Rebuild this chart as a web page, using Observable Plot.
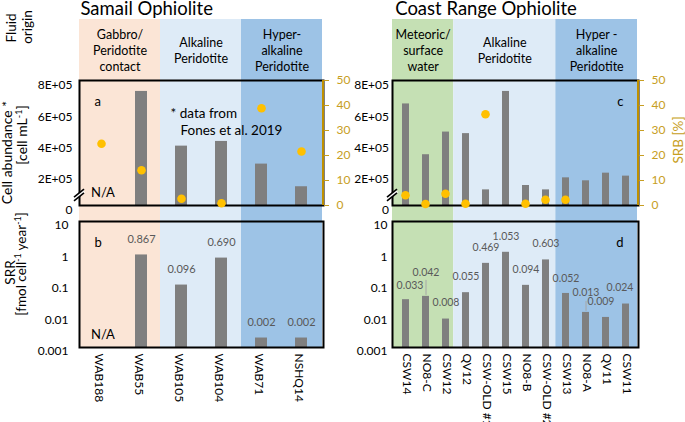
<!DOCTYPE html>
<html><head><meta charset="utf-8">
<script src="https://cdn.jsdelivr.net/npm/d3@7"></script>
<script src="https://cdn.jsdelivr.net/npm/@observablehq/plot@0.6"></script>
<style>
body{margin:0;background:#fff;}
#chart{position:relative;width:685px;height:422px;overflow:hidden;font-family:Lato,sans-serif;}
#chart svg{position:absolute;left:0;top:0;}
</style></head><body><div id="chart"></div>
<script>
// ---------------- data ----------------
const samailSamples = ["WAB188","WAB55","WAB105","WAB104","WAB71","NSHQ14"];
const samailGroupIdx = [0,0,1,1,2,2];
const samailGroupNames = ["Gabbro/\nPeridotite\ncontact","Alkaline\nPeridotite","Hyper-\nalkaline\nPeridotite"];
const samailGroupKinds = ["gabbro","alkaline","hyper"];
const samailCells = [null, 7.3e5, 3.8e5, 4.1e5, 2.65e5, 1.2e5];
const samailSRB = [24.7, 14.1, 2.7, 0.9, 38.9, 21.6];
const samailSRR = [null, 0.867, 0.096, 0.690, 0.002, 0.002];

const coastSamples = ["CSW14","NO8-C","CSW12","QV12","CSW-OLD #1","CSW15","NO8-B","CSW-OLD #2","CSW13","NO8-A","QV11","CSW11"];
const coastGroupIdx = [0,0,0,1,1,1,1,1,2,2,2,2];
const coastGroupNames = ["Meteoric/\nsurface\nwater","Alkaline\nPeridotite","Hyper -\nalkaline\nPeridotite"];
const coastGroupKinds = ["meteoric","alkaline","hyper"];
const coastCells = [6.5e5,3.25e5,4.7e5,4.6e5,1.0e5,7.3e5,1.28e5,1.0e5,1.77e5,1.58e5,2.07e5,1.88e5];
const coastSRB = [4.1,0.6,4.7,0.7,36.5,null,0.7,2.3,2.3,null,null,null];
const coastSRR = [0.033,0.042,0.008,0.055,0.469,1.053,0.094,0.603,0.052,0.013,0.009,0.024];

const cellTicks = [0,2e5,4e5,6e5,8e5];
const cellTickLabels = ["0","2E+05","4E+05","6E+05","8E+05"];
const srbTicks = [0,10,20,30,40,50];
const srrTicks = [0.001,0.01,0.1,1,10];
const srrTickLabels = ["0.001","0.01","0.1","1","10"];

// ---------------- style ----------------
const W = 685, H = 422;
const kindColor = {gabbro:"#FBE5D6", alkaline:"#DEEBF7", hyper:"#9DC3E6", meteoric:"#C5E0B4"};
const BAR = "#7F7F7F", DOT = "#FFC000", GOLD = "#BF9000", GOLD_TEXT = "#C79E22", LABEL = "#595959";
const FONT = "Lato, sans-serif";
// label nudges [dx, dy, leaderLength]
const srrNudge = {"CSW14":[4,-14,0], "NO8-C":[0,-24,16], "CSW13":[0,-15,0], "NO8-A":[0,-20,11], "QV11":[-5,-16,0], "CSW11":[-6,-16,0]};

const sides = [
  {samples: samailSamples, groupIdx: samailGroupIdx, groupNames: samailGroupNames, kinds: samailGroupKinds,
   cells: samailCells, srb: samailSRB, srr: samailSRR,
   x0: 79, x1: 323, pad: 0.7, cellPad: 7, srrPad: 11, labelDx: -3,
   tags: ["a","b"], tagAnchor: "top-left", tagDx: 15, na: true, note: true, labelDy: -15.5, labelSize: 11},
  {samples: coastSamples, groupIdx: coastGroupIdx, groupNames: coastGroupNames, kinds: coastGroupKinds,
   cells: coastCells, srb: coastSRB, srr: coastSRR,
   x0: 392, x1: 638, pad: 0.66, cellPad: 3.5, srrPad: 5, labelDx: 1,
   tags: ["c","d"], tagAnchor: "top-right", tagDx: -15, na: false, note: false, labelDy: -16, labelSize: 10.5}
];

const chart = document.getElementById("chart");
const baseStyle = {background:"transparent", overflow:"visible", fontFamily: FONT, fontSize:"12px", color:"#000"};
function box(x0,x1,y0,y1){ return {width:W,height:H,marginLeft:x0,marginRight:W-x1,marginTop:y0,marginBottom:H-y1,style:baseStyle}; }
function svgEl(tag, attrs){ const e = document.createElementNS("http://www.w3.org/2000/svg", tag); for (const k in attrs) e.setAttribute(k, attrs[k]); return e; }
function rightLine(index, scales, values, dims){
  const x = dims.width - dims.marginRight;
  return svgEl("line",{x1:x,x2:x,y1:dims.marginTop,y2:dims.height-dims.marginBottom,stroke:GOLD,"stroke-width":2});
}
function breakMark(index, scales, values, dims){
  const x = dims.marginLeft, y = dims.height - dims.marginBottom - 10;
  const g = svgEl("g",{});
  g.appendChild(svgEl("line",{x1:x-5,y1:y+4,x2:x+5,y2:y-4,stroke:"#fff","stroke-width":3}));
  g.appendChild(svgEl("line",{x1:x-5,y1:y+2.2,x2:x+5,y2:y-5.8,stroke:"#000","stroke-width":1.6}));
  g.appendChild(svgEl("line",{x1:x-5,y1:y+5.8,x2:x+5,y2:y-2.2,stroke:"#000","stroke-width":1.6}));
  return g;
}

for (const s of sides) {
  const n = s.samples.length;
  const groups = s.groupNames.map((name,g)=>({name, kind: s.kinds[g], start: s.groupIdx.indexOf(g), end: s.groupIdx.lastIndexOf(g)+1}));
  const xBand = {domain: s.samples, paddingInner: s.pad, paddingOuter: s.pad/2, axis: null};

  // header bands + fluid-origin labels
  chart.appendChild(Plot.plot({...box(s.x0, s.x1-1, 19, 79),
    x:{domain:[0,n],axis:null}, y:{domain:[0,1],axis:null}, color:{type:"identity"},
    marks:[
      Plot.rect(groups,{x1:"start",x2:"end",y1:0,y2:1,fill:d=>kindColor[d.kind]}),
      Plot.text(groups,{x:d=>(d.start+d.end)/2,y:0.5,text:"name",fontSize:12.5,lineHeight:1.28,fill:"#000"})
    ]}));
  // lower bands behind panels
  chart.appendChild(Plot.plot({...box(s.x0, s.x1-1, 79, 347),
    x:{domain:[0,n],axis:null}, y:{domain:[0,1],axis:null}, color:{type:"identity"},
    marks:[ Plot.rect(groups,{x1:"start",x2:"end",y1:0,y2:1,fill:d=>kindColor[d.kind]}) ]}));

  // panel a/c : cell abundance
  const cellData = s.samples.map((d,i)=>({s:d, v:s.cells[i]})).filter(d=>d.v!=null);
  const topMarks = [
    Plot.barY(cellData,{x:"s",y:"v",fill:BAR}),
    Plot.axisY({ticks:cellTicks,tickFormat:d=>cellTickLabels[cellTicks.indexOf(d)],tickSize:0,tickPadding:s.cellPad,dy:5,fontSize:12,label:null}),
    Plot.frame({stroke:"#000",strokeWidth:2}),
    breakMark,
    Plot.text([s.tags[0]],{frameAnchor:s.tagAnchor,dx:s.tagDx,dy:16,fontSize:13,fill:"#000"})
  ];
  if (s.na) topMarks.push(Plot.text(["N/A"],{frameAnchor:"bottom-left",dx:11.5,dy:-8.5,textAnchor:"start",fontSize:13,fill:"#000"}));
  if (s.note) {
    topMarks.push(Plot.text(["* data from"],{frameAnchor:"top-left",dx:91,dy:28,textAnchor:"start",fontSize:13.5,fill:"#000"}));
    topMarks.push(Plot.text(["Fones et al. 2019"],{frameAnchor:"top-left",dx:101,dy:45,textAnchor:"start",fontSize:13.5,fill:"#000"}));
  }
  chart.appendChild(Plot.plot({...box(s.x0, s.x1, 80, 205), x: xBand, y:{domain:[0,8e5]}, marks: topMarks}));

  // SRB overlay
  const srbData = s.samples.map((d,i)=>({s:d, v:s.srb[i]})).filter(d=>d.v!=null);
  chart.appendChild(Plot.plot({...box(s.x0, s.x1, 80, 205), x: xBand, y:{domain:[0,50]},
    marks:[
      Plot.axisY({anchor:"right",ticks:srbTicks,tickSize:5,tickPadding:8,color:GOLD_TEXT,fontSize:12,label:null}),
      rightLine,
      Plot.dot(srbData,{x:"s",y:"v",r:4.3,fill:DOT,stroke:null})
    ]}));

  // panel b/d : SRR (log)
  const srrData = s.samples.map((d,i)=>({s:d, v:s.srr[i]})).filter(d=>d.v!=null);
  const botMarks = [
    Plot.barY(srrData,{x:"s",y1:0.001,y2:"v",fill:BAR}),
    Plot.axisY({ticks:srrTicks,tickFormat:d=>srrTickLabels[srrTicks.indexOf(d)],tickSize:0,tickPadding:s.srrPad,dy:4,fontSize:12,label:null}),
    Plot.frame({stroke:"#000",strokeWidth:2}),
    Plot.text([s.tags[1]],{frameAnchor:s.tagAnchor,dx:s.tagDx,dy:16.5,fontSize:13,fill:"#000"}),
    Plot.text(s.samples,{x:d=>d,frameAnchor:"bottom",rotate:90,textAnchor:"start",lineAnchor:"middle",dx:s.labelDx,dy:6,fontSize:12,fill:"#000"})
  ];
  for (const d of srrData) {
    const [ndx, ndy, lead] = srrNudge[d.s] || [0, s.labelDy, 0];
    botMarks.push(Plot.text([d],{x:"s",y:"v",text:e=>e.v.toFixed(3),dx:ndx,dy:ndy,fontSize:s.labelSize,fill:LABEL}));
    if (lead) botMarks.push(Plot.ruleX([d],{x:"s",y1:"v",y2:"v",insetTop:-1,insetBottom:lead,stroke:"#A6A6A6",strokeWidth:1}));
  }
  if (s.na) botMarks.push(Plot.text(["N/A"],{frameAnchor:"bottom-left",dx:11.5,dy:-9,textAnchor:"start",fontSize:13,fill:"#000"}));
  chart.appendChild(Plot.plot({...box(s.x0, s.x1, 221, 347), x: xBand, y:{type:"log",domain:[0.001,10]}, marks: botMarks}));
}

// titles and axis titles
const ov = d3.create("svg").attr("width",W).attr("height",H).style("font-family",FONT).style("overflow","visible");
ov.append("text").attr("x",146.7).attr("y",14.5).attr("text-anchor","middle").attr("font-size",18.5).text("Samail Ophiolite");
ov.append("text").attr("x",486).attr("y",14.5).attr("text-anchor","middle").attr("font-size",18.5).text("Coast Range Ophiolite");
function rot(x,y,parts,size,fill){
  const t = ov.append("text").attr("transform",`translate(${x},${y}) rotate(-90)`).attr("text-anchor","middle")
    .attr("dy","0.35em").attr("font-size",size).attr("fill",fill||"#000");
  for (const p of parts) {
    if (typeof p === "string") t.append("tspan").text(p);
    else t.append("tspan").attr("font-size",size*0.65).attr("baseline-shift","super").text(p.sup);
  }
}
rot(11,28,["Fluid"],13.5);
rot(27,27,["origin"],13.5);
rot(7,152.5,["Cell abundance *"],14);
rot(22,135,["[cell mL",{sup:"-1"},"]"],14);
rot(10,272.5,["SRR"],13.5);
rot(21,264,["[fmol cell",{sup:"-1"}," year",{sup:"-1"},"]"],13.5);
rot(678.5,140,["SRB [%]"],13.5,GOLD_TEXT);
chart.appendChild(ov.node());
</script></body></html>
